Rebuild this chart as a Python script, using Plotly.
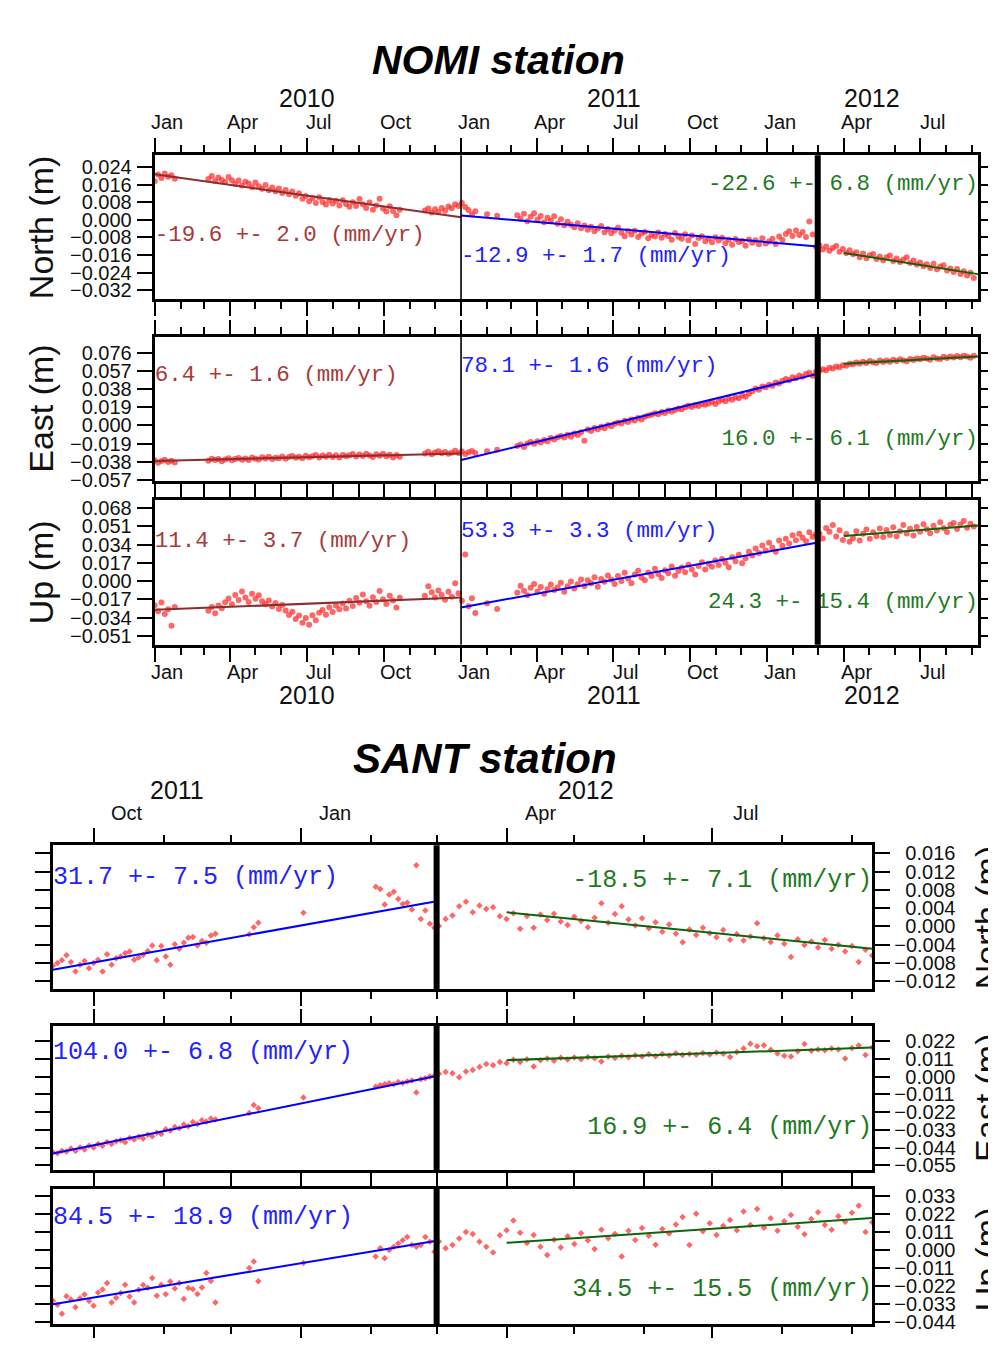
import datetime as dt
import plotly.graph_objects as go

# The page body keeps the browser's 8 px margin, so every window-pixel position is shifted by OFF.
OFF = 8
W, H = 996 - OFF, 1346 - 2 * OFF

# ============================ DATA ============================
# NOMI station: epochs are day offsets from NOMI_EPOCH, given as blocks (first day, step, count)
NOMI_EPOCH = dt.date(2010, 1, 1)
NOMI_BLOCKS = [(0, 4, 7), (64, 4, 58), (322, 4, 16), (396, 12, 2), (432, 4, 137)]

NOMI_NORTH_MM = [
    17.5, 20.5, 19.0, 21.0, 19.5, 20.2, 18.6,
    18.5, 19.8, 17.6, 19.2, 18.0, 17.1, 19.4, 17.9, 16.2, 17.8,
    15.6, 17.3, 16.5, 14.8, 16.9, 15.2, 14.1, 15.8, 13.4, 14.6,
    12.9, 14.2, 12.1, 13.5, 11.6, 12.8, 10.9, 12.0, 9.6, 10.8,
    8.4, 9.9, 7.6, 10.2, 8.1, 6.9, 9.0, 7.4, 8.6, 6.5,
    8.9, 7.2, 5.9, 8.0, 6.3, 9.4, 7.1, 5.4, 7.8, 4.6,
    6.5, 9.6, 5.1, 3.8, 6.2, 4.0, 2.1, 4.6,
    4.2, 5.1, 3.3, 4.8, 3.6, 5.4, 4.1, 6.0, 5.2, 7.1, 6.3, 7.6, 5.8, 4.5, 2.4, 3.9,
    2.5, 1.8,
    2.1, 0.5, 2.8, -0.6, 1.4, 3.0, 0.2, 1.7, -1.1, 0.9,
    -0.4, 1.6, -1.8, 0.3, -2.5, -0.9, -2.2, -3.4, -1.5, -3.8,
    -2.6, -4.5, -3.1, -5.2, -3.9, -2.8, -5.6, -4.2, -6.1, -4.8,
    -3.6, -5.9, -7.4, -5.1, -6.6, -4.9, -7.8, -6.2, -5.5, -8.3,
    -6.9, -7.6, -5.8, -8.1, -6.4, -7.3, -9.0, -6.0, -7.7, -8.6,
    -6.5, -9.3, -7.1, -11.0, -8.2, -7.4, -9.7, -8.5, -10.2, -7.9,
    -9.4, -8.1, -10.6, -9.0, -11.3, -8.7, -10.0, -9.6, -11.8, -8.9,
    -10.4, -9.2, -11.1, -8.4, -10.7, -9.8, -8.6, -10.9, -7.5, -9.1,
    -6.4, -5.2, -7.3, -4.8, -6.9, -5.5, -7.8, -0.8, -6.6, -12.2,
    -11.6, -13.4, -12.1, -14.0, -12.8, -11.9, -14.5, -13.2, -15.1, -13.8,
    -15.6, -14.7, -16.9, -15.3, -17.4, -16.1, -15.5, -17.8, -16.6, -18.3,
    -17.0, -16.2, -18.6, -17.5, -19.1, -18.0, -16.9, -19.6, -18.4, -20.2,
    -19.3, -21.0, -20.1, -21.8, -19.9, -22.4, -21.2, -20.6, -23.0, -22.1,
    -23.6, -22.3, -24.5, -23.3, -25.2, -24.0, -26.4,
]
NOMI_EAST_MM = [
    -36.5, -38.9, -37.2, -35.8, -38.1, -37.0, -38.6,
    -36.9, -34.8, -36.2, -35.1, -37.3, -35.6, -34.2, -36.4, -35.0, -33.9,
    -35.8, -34.5, -36.1, -33.6, -34.9, -35.7, -33.2, -34.6, -32.8, -35.1,
    -33.7, -34.3, -32.4, -34.8, -33.1, -31.9, -33.8, -32.6, -34.2, -31.7,
    -33.3, -32.1, -30.8, -33.5, -31.4, -32.7, -30.6, -32.9, -31.2, -33.6,
    -30.9, -32.3, -31.1, -29.8, -32.5, -30.4, -31.8, -29.6, -31.3, -33.0,
    -30.2, -31.6, -29.5, -32.2, -30.7, -33.4, -31.0, -32.6,
    -29.4, -27.6, -30.1, -28.2, -26.9, -29.0, -27.8, -29.7, -28.4, -26.5, -28.9, -27.3, -29.8, -28.1, -26.7, -28.8,
    -27.0, -25.5,
    -21.5, -19.8, -22.6, -18.9, -17.3, -19.1, -16.4, -17.8, -15.2, -16.6,
    -13.1, -14.6, -12.2, -10.9, -12.5, -9.6, -11.8, -8.4, -9.9, -7.1,
    -16.0, -4.2, -5.8, -2.6, -3.9, -1.3, -2.8, 0.4, -0.9, 1.8,
    3.1, 2.0, 4.9, 3.6, 6.2, 5.1, 7.9, 6.3, 9.2, 10.4,
    11.3, 12.9, 11.8, 14.2, 13.1, 15.6, 14.7, 16.3, 17.8, 16.9,
    19.1, 20.6, 19.4, 21.2, 20.3, 22.5, 21.8, 23.1, 24.9, 22.6,
    25.1, 26.8, 25.4, 28.2, 27.0, 29.4, 28.6, 31.3, 30.0, 33.1,
    35.9, 38.6, 37.4, 40.8, 39.9, 42.6, 41.5, 44.9, 43.8, 46.7,
    48.6, 47.3, 50.5, 49.4, 52.3, 51.1, 53.8, 55.2, 52.0, 56.4,
    57.2, 58.9, 57.8, 60.4, 59.6, 61.8, 61.0, 63.1, 62.4, 64.5,
    64.2, 65.9, 64.8, 66.6, 65.3, 67.4, 66.1, 65.5, 67.9, 66.4,
    68.1, 66.7, 68.9, 67.4, 69.2, 68.0, 67.1, 69.6, 68.5, 70.1,
    69.3, 71.0, 70.2, 68.8, 71.4, 70.0, 69.5, 71.9, 70.6, 72.2,
    71.1, 72.6, 71.5, 73.0, 72.1, 70.8, 72.9,
]
NOMI_UP_MM = [
    -22.5, -28.0, -19.8, -30.5, -26.2, -41.5, -24.0,
    -27.5, -24.1, -29.8, -22.6, -25.3, -19.7, -16.2, -21.4, -12.8, -17.5,
    -9.6, -15.1, -19.3, -11.7, -16.4, -13.2, -18.8, -21.5, -17.9, -23.6,
    -20.4, -25.8, -22.1, -27.3, -31.6, -28.4, -35.2, -32.0, -38.7, -34.3,
    -40.6, -31.8, -36.4, -29.5, -26.8, -31.2, -24.3, -28.6, -22.7, -26.1,
    -20.9, -25.4, -18.3, -23.0, -15.6, -20.2, -12.4, -18.7, -22.8, -14.9,
    -19.5, -9.2, -16.8, -21.3, -13.6, -18.1, -24.6, -15.4,
    -13.5, -4.8, -10.2, -15.1, -8.6, -12.9, -17.4, -9.8, -14.6, -2.0, -11.3, -18.2, 24.8, -23.4, -15.9, -29.6,
    -20.5, -26.0,
    -10.8, -4.2, -8.9, -13.1, -6.0, -2.7, -9.5, -5.3, -11.6, -7.4,
    -3.1, -8.2, -5.7, -1.4, -9.8, -4.6, -0.2, -6.9, -2.8, 1.5,
    -4.4, 0.8, -1.9, 3.6, -5.2, 2.1, -0.6, 5.4, 1.3, -2.7,
    4.9, 0.2, 7.8, 2.6, -1.8, 6.3, 9.7, 3.4, 0.9, 8.1,
    4.8, 11.6, 6.7, 2.9, 10.2, 7.5, 13.8, 5.1, 9.4, 12.7,
    8.3, 15.4, 11.0, 6.2, 14.1, 17.6, 10.8, 16.2, 13.5, 19.3,
    15.1, 20.8, 17.2, 12.9, 22.4, 18.6, 24.7, 16.8, 21.3, 27.5,
    23.9, 30.6, 26.2, 33.4, 28.7, 35.8, 31.2, 27.4, 37.9, 33.1,
    39.6, 35.2, 42.8, 38.1, 44.3, 40.5, 37.2, 45.6, 41.4, 43.7,
    44.2, 39.8, 49.6, 46.1, 52.3, 41.7, 47.5, 38.4, 43.9, 36.8,
    40.1, 46.5, 37.9, 44.3, 48.2, 39.6, 45.7, 42.0, 49.1, 41.3,
    47.8, 43.1, 50.2, 41.9, 46.6, 52.4, 44.5, 48.9, 42.7, 50.6,
    46.2, 53.1, 48.4, 44.8, 51.7, 47.3, 55.0, 49.5, 45.9, 52.6,
    54.3, 48.7, 52.9, 56.1, 49.8, 53.5, 51.0,
]
# linear fits: (first day, last day) and (start value, end value) in mm
NOMI_FIT_DAYS = [(0, 365), (365, 790), (821, 981)]
NOMI_FIT_NORTH = [(20.6, 1.2), (2.0, -12.1), (-15.0, -24.6)]
NOMI_FIT_EAST = [(-37.2, -29.3), (-36.2, 54.0), (64.6, 72.3)]
NOMI_FIT_UP = [(-26.7, -15.3), (-24.5, 36.1), (42.1, 52.0)]
NOMI_RATE_NORTH = ["-19.6 +- 2.0 (mm/yr)", "-12.9 +- 1.7 (mm/yr)", "-22.6 +- 6.8 (mm/yr)"]
NOMI_RATE_EAST = ["6.4 +- 1.6 (mm/yr)", "78.1 +- 1.6 (mm/yr)", "16.0 +- 6.1 (mm/yr)"]
NOMI_RATE_UP = ["11.4 +- 3.7 (mm/yr)", "53.3 +- 3.3 (mm/yr)", "24.3 +- 15.4 (mm/yr)"]
NOMI_N_TICKS = [-0.032, -0.024, -0.016, -0.008, 0.000, 0.008, 0.016, 0.024]
NOMI_E_TICKS = [-0.057, -0.038, -0.019, 0.000, 0.019, 0.038, 0.057, 0.076]
NOMI_U_TICKS = [-0.051, -0.034, -0.017, 0.000, 0.017, 0.034, 0.051, 0.068]

# SANT station: day offsets from SANT_EPOCH
SANT_EPOCH = dt.date(2012, 1, 1)
SANT_BLOCKS = [(-110, 2, 37), (-23, 2, 3), (1, 1, 1), (33, 2, 14), (61, 3, 65)]
SANT_NORTH_MM = [
    -8.6, -8.0, -7.4, -6.3, -7.8, -9.9, -8.4, -7.6, -9.2, -8.0,
    -7.3, -9.9, -6.1, -8.4, -7.0, -6.6, -5.9, -5.5, -7.3, -6.8,
    -6.2, -5.4, -4.2, -7.4, -4.3, -6.6, -8.4, -3.9, -4.9, -3.6,
    -2.5, -2.3, -4.2, -3.2, -3.6, -2.0, -1.6,
    -1.7, -0.2, 0.8,
    3.0,
    8.7, 8.2, 4.8, 7.0, 7.6, 6.0, 4.9, 5.2, 3.7, 13.4, 1.6, 3.5, 0.6, -0.3,
    0.1, 1.6, 2.4, 4.4, 5.4, 3.1, 4.6, 3.8, 4.2, 2.2,
    1.6, 2.9, -0.5, 2.3, -0.3, 2.6, 1.4, 2.8, 1.1, 0.3,
    2.1, 1.2, -0.2, 1.9, 5.1, 0.8, 2.7, 4.4, 1.5, 0.2,
    1.8, -0.4, 0.9, -1.2, 0.4, -1.6, -3.5, -0.7, -1.9, -0.3,
    -1.5, -2.4, -0.8, -2.9, -1.7, -3.1, -2.2, 0.7, -2.6, -3.4,
    -2.0, -3.8, -6.7, -2.8, -4.1, -3.3, -4.6, -3.0, -4.9, -4.0,
    -5.5, -4.3, -7.8, -5.1, -6.4,
]
SANT_EAST_MM = [
    -46.8, -47.5, -45.9, -46.4, -44.6, -46.1, -44.0, -45.2, -42.8, -43.9,
    -41.7, -42.9, -40.5, -41.8, -40.0, -39.4, -40.6, -38.1, -39.0, -37.2,
    -38.3, -36.0, -36.9, -34.8, -35.5, -32.6, -33.4, -31.2, -31.9, -29.7,
    -30.8, -28.1, -29.3, -27.0, -27.8, -25.9, -26.6,
    -22.5, -17.6, -19.6,
    -12.9,
    -6.2, -5.3, -4.7, -4.1, -4.6, -3.2, -3.8, -2.9, -2.4, -9.8, -1.5, -1.0, 0.2, 0.6,
    1.8, 3.0, 2.2, -0.3, 3.3, 4.2, 6.1, 8.0, 7.1, 9.2,
    8.4, 10.6, 9.1, 10.9, 6.4, 10.2, 11.4, 10.0, 11.8, 10.7,
    11.9, 10.8, 12.3, 11.5, 9.4, 12.6, 11.7, 13.0, 12.1, 13.4,
    12.6, 13.9, 12.8, 14.1, 13.2, 14.6, 13.5, 14.2, 13.6, 14.8,
    13.8, 15.0, 14.3, 12.3, 15.4, 17.6, 20.5, 18.9, 19.6, 16.8,
    14.4, 13.1, 12.6, 15.9, 20.4, 16.2, 17.0, 16.5, 17.6, 16.9,
    11.4, 17.8, 19.4, 13.5, 18.2,
]
SANT_UP_MM = [
    -31.0, -33.5, -39.0, -28.2, -30.3, -35.0, -29.4, -27.2, -31.2, -34.0,
    -26.0, -24.2, -20.2, -32.0, -29.1, -26.3, -21.2, -28.4, -32.0, -24.3,
    -21.3, -23.0, -17.1, -28.0, -21.2, -27.0, -19.2, -23.5, -20.1, -30.0,
    -23.2, -24.0, -26.8, -22.9, -14.1, -19.0, -32.0,
    -11.0, -7.0, -19.1,
    -8.0,
    -4.0, 1.0, -5.0, 0.0, 2.0, 4.0, 6.0, 8.0, 3.0, 2.0, 3.0, 8.0, 5.0, -1.0,
    5.2, 1.0, 3.1, 7.0, 11.0, 9.8, 5.1, 2.0, -1.5, 9.0,
    12.0, 18.0, 10.5, 4.2, 9.1, 2.0, -3.0, 6.3, 1.5, 8.4,
    3.6, 10.2, 5.8, 0.6, 12.4, 7.2, 9.8, -4.0, 11.7, 6.1,
    13.5, 8.7, 3.2, 12.9, 10.1, 15.6, 20.1, 3.0, 22.1, 11.5,
    16.4, 9.2, 14.8, 18.3, 12.0, 23.5, 15.2, 25.1, 13.6, 19.4,
    11.8, 17.5, 21.3, 14.2, 9.6, 18.9, 23.0, 15.3, 12.4, 20.6,
    17.2, 22.8, 27.1, 11.0, 16.9,
]
SANT_FIT_DAYS = [(-110, 60), (91, 253)]
SANT_FIT_NORTH = [(-9.5, 5.5), (3.1, -4.9)]
SANT_FIT_EAST = [(-47.7, 0.5), (10.3, 18.1)]
SANT_FIT_UP = [(-33.1, 5.6), (4.4, 19.6)]
SANT_RATE_NORTH = ["31.7 +- 7.5 (mm/yr)", "-18.5 +- 7.1 (mm/yr)"]
SANT_RATE_EAST = ["104.0 +- 6.8 (mm/yr)", "16.9 +- 6.4 (mm/yr)"]
SANT_RATE_UP = ["84.5 +- 18.9 (mm/yr)", "34.5 +- 15.5 (mm/yr)"]
SANT_N_TICKS = [-0.012, -0.008, -0.004, 0.000, 0.004, 0.008, 0.012, 0.016]
SANT_E_TICKS = [-0.055, -0.044, -0.033, -0.022, -0.011, 0.000, 0.011, 0.022]
SANT_U_TICKS = [-0.044, -0.033, -0.022, -0.011, 0.000, 0.011, 0.022, 0.033]

MONTH_NAMES = {1: "Jan", 4: "Apr", 7: "Jul", 10: "Oct"}

# ============================ STYLE / LAYOUT ============================
SANS = "Liberation Sans, Arial, Helvetica, sans-serif"
MONO = "Liberation Mono, Courier New, Courier, monospace"
INK = "#111111"
POINT = "rgba(255,45,45,0.72)"
BROWN_T, BROWN_L = "#a83a3a", "#8b2e2e"
BLUE_T, BLUE_L = "#2222ff", "#0000ff"
GREEN_T, GREEN_L = "#1e7a1e", "#0b650b"
BREAK_THIN = "2011-01-01"
BREAK_THICK = "2012-03-01"
ANN_DY = 3.5  # annotation boxes sit slightly low; lift them by this many px


def px_x(px):
    """window pixel (x) -> paper fraction"""
    return (px - OFF) / W


def px_y(py):
    """window pixel (y, from top) -> paper fraction"""
    return 1 - (py - OFF) / H


def dstr(epoch, d):
    return (epoch + dt.timedelta(days=d)).isoformat()


def epochs(epoch, blocks):
    out = []
    for start, step, n in blocks:
        out += [dstr(epoch, start + i * step) for i in range(n)]
    return out


NOMI_T = epochs(NOMI_EPOCH, NOMI_BLOCKS)
SANT_T = epochs(SANT_EPOCH, SANT_BLOCKS)
for arr in (NOMI_NORTH_MM, NOMI_EAST_MM, NOMI_UP_MM):
    assert len(arr) == len(NOMI_T), (len(arr), len(NOMI_T))
for arr in (SANT_NORTH_MM, SANT_EAST_MM, SANT_UP_MM):
    assert len(arr) == len(SANT_T), (len(arr), len(SANT_T))

STATIONS = {
    "NOMI": dict(epoch=NOMI_EPOCH, t=NOMI_T, xpx=(155, 980), xrange=[0, 981],
                 fit_days=NOMI_FIT_DAYS, fit_colors=[BROWN_L, BLUE_L, GREEN_L],
                 txt_colors=[BROWN_T, BLUE_T, GREEN_T],
                 txt_anchor=[(0, "middle right"), (365, "middle right"), (981, "middle left")],
                 txt_size=22.5, side="left", years=[2010, 2011, 2012],
                 marker=dict(symbol="circle", size=6), standoff=1),
    "SANT": dict(epoch=SANT_EPOCH, t=SANT_T, xpx=(53, 874), xrange=[-110, 253],
                 fit_days=SANT_FIT_DAYS, fit_colors=[BLUE_L, GREEN_L],
                 txt_colors=[BLUE_T, GREEN_T],
                 txt_anchor=[(-110, "middle right"), (253, "middle left")],
                 txt_size=25, side="right", years=[2011, 2012],
                 marker=dict(symbol="diamond", size=5), standoff=0),
}

PANELS = [
    dict(st="NOMI", name="North (m)", vals=NOMI_NORTH_MM, fits=NOMI_FIT_NORTH, rates=NOMI_RATE_NORTH,
         ticks=NOMI_N_TICKS, yr=[-0.0360, 0.0293], px=(153, 299), txt_y=[-6.9, -16.7, 16.0]),
    dict(st="NOMI", name="East (m)", vals=NOMI_EAST_MM, fits=NOMI_FIT_EAST, rates=NOMI_RATE_EAST,
         ticks=NOMI_E_TICKS, yr=[-0.0580, 0.0928], px=(337, 483), txt_y=[52.0, 62.3, -14.2]),
    dict(st="NOMI", name="Up (m)", vals=NOMI_UP_MM, fits=NOMI_FIT_UP, rates=NOMI_RATE_UP,
         ticks=NOMI_U_TICKS, yr=[-0.0593, 0.0760], px=(502, 649), txt_y=[36.8, 46.9, -20.2]),
    dict(st="SANT", name="North (m)", vals=SANT_NORTH_MM, fits=SANT_FIT_NORTH, rates=SANT_RATE_NORTH,
         ticks=SANT_N_TICKS, yr=[-0.0138, 0.0178], px=(852, 998), txt_y=[10.7, 10.1]),
    dict(st="SANT", name="East (m)", vals=SANT_EAST_MM, fits=SANT_FIT_EAST, rates=SANT_RATE_EAST,
         ticks=SANT_E_TICKS, yr=[-0.0579, 0.0316], px=(1035, 1181), txt_y=[14.6, -31.5]),
    dict(st="SANT", name="Up (m)", vals=SANT_UP_MM, fits=SANT_FIT_UP, rates=SANT_RATE_UP,
         ticks=SANT_U_TICKS, yr=[-0.0452, 0.0374], px=(1200, 1337), txt_y=[19.7, -24.2]),
]


def sfx(i):
    return "" if i == 1 else str(i)


def fmt_tick(v, pad):
    s = f"{abs(v):.3f}"
    if v < 0:
        return "\u2212" + s
    return ("\u2007" + s) if pad else s


fig = go.Figure()
layout = dict(width=W, height=H, margin=dict(l=0, r=0, t=0, b=0), autosize=False,
              paper_bgcolor="white", plot_bgcolor="white", showlegend=False,
              font=dict(family=SANS, color=INK))
shapes, annotations = [], []
next_ax = 7


def quarter_dates(st):
    s = STATIONS[st]
    lo = s["epoch"] + dt.timedelta(days=s["xrange"][0])
    hi = s["epoch"] + dt.timedelta(days=s["xrange"][1])
    out = []
    for y in range(lo.year, hi.year + 1):
        for m in (1, 4, 7, 10):
            d = dt.date(y, m, 1)
            if lo <= d <= hi:
                out.append(d)
    return out


for i, p in enumerate(PANELS, start=1):
    s = STATIONS[p["st"]]
    xa, ya = "x" + sfx(i), "y" + sfx(i)
    xr = [dstr(s["epoch"], s["xrange"][0]), dstr(s["epoch"], s["xrange"][1])]
    xdom = [px_x(s["xpx"][0]), px_x(s["xpx"][1])]
    ydom = [px_y(p["px"][1]), px_y(p["px"][0])]

    fig.add_trace(go.Scatter(x=s["t"], y=[v / 1000 for v in p["vals"]], mode="markers",
                             marker=dict(color=POINT, line=dict(width=0), **s["marker"]),
                             xaxis=xa, yaxis=ya, hoverinfo="skip"))
    for (d0, d1), (v0, v1), c in zip(s["fit_days"], p["fits"], s["fit_colors"]):
        fig.add_trace(go.Scatter(x=[dstr(s["epoch"], d0), dstr(s["epoch"], d1)], y=[v0 / 1000, v1 / 1000],
                                 mode="lines", line=dict(color=c, width=2), xaxis=xa, yaxis=ya, hoverinfo="skip"))
    for txt, ty, (ad, pos), c in zip(p["rates"], p["txt_y"], s["txt_anchor"], s["txt_colors"]):
        fig.add_trace(go.Scatter(x=[dstr(s["epoch"], ad)], y=[ty / 1000], mode="text", text=[txt],
                                 textposition=pos, cliponaxis=False,
                                 textfont=dict(family=MONO, size=s["txt_size"], color=c),
                                 xaxis=xa, yaxis=ya, hoverinfo="skip"))

    qd = quarter_dates(p["st"])
    jan = [d.isoformat() for d in qd if d.month == 1]
    tick0 = qd[0].isoformat()
    layout["xaxis" + sfx(i)] = dict(
        type="date", range=xr, domain=xdom, anchor=ya, showline=True, linecolor="black", linewidth=3,
        mirror="ticks", ticks="outside", tickmode="array", tickvals=[d.isoformat() for d in qd],
        ticklen=14, tickwidth=1.6, tickcolor="black", showticklabels=False, showgrid=False, zeroline=False,
        minor=dict(ticks="outside", ticklen=7, tickwidth=1.6, tickcolor="black", dtick="M1", tick0=tick0,
                   showgrid=False))
    ylabels = [fmt_tick(v, s["side"] == "right") for v in p["ticks"]]
    layout["yaxis" + sfx(i)] = dict(
        domain=ydom, anchor=xa, range=p["yr"], tickmode="array", tickvals=p["ticks"], ticktext=ylabels,
        ticks="outside", ticklen=15, tickwidth=1.6, tickcolor="black", showline=True, linecolor="black",
        linewidth=3, mirror="ticks", side=s["side"], ticklabelstandoff=s["standoff"],
        tickfont=dict(size=20, family=SANS, color=INK), showgrid=False, zeroline=False)

    # year boundary ticks crossing the gaps between panels
    jv = jan if p["st"] == "SANT" else ["2010-01-01"] + jan
    layout["xaxis" + str(next_ax)] = dict(
        type="date", range=xr, overlaying=xa, anchor=ya, side="bottom", tickmode="array", tickvals=jv,
        ticks="outside", ticklen=19, tickwidth=1.6, tickcolor="black", mirror="ticks",
        showticklabels=False, showline=False, showgrid=False, zeroline=False)
    next_ax += 1
    # long outer year ticks
    outer = {1: "top", 4: "top", 3: "bottom"}.get(i)
    if outer:
        layout["xaxis" + str(next_ax)] = dict(
            type="date", range=xr, overlaying=xa, anchor=ya, side=outer, tickmode="array", tickvals=jan,
            ticks="outside", ticklen=42, tickwidth=1.6, tickcolor="black",
            showticklabels=False, showline=False, showgrid=False, zeroline=False)
        next_ax += 1
    # inner year ticks (bottom of East, top of Up)
    if p["name"] in ("East (m)", "Up (m)"):
        jin = [d for d in jan if d.startswith("2012")]
        layout["xaxis" + str(next_ax)] = dict(
            type="date", range=xr, overlaying=xa, anchor=ya,
            side="bottom" if p["name"] == "East (m)" else "top", tickmode="array", tickvals=jin,
            ticks="inside", ticklen=24, tickwidth=1.6, tickcolor="black",
            showticklabels=False, showline=False, showgrid=False, zeroline=False)
        next_ax += 1

    # segment boundaries
    if p["st"] == "NOMI":
        shapes.append(dict(type="line", xref=xa, yref=ya + " domain", x0=BREAK_THIN, x1=BREAK_THIN,
                           y0=0, y1=1, line=dict(color="black", width=1.6), layer="above"))
    shapes.append(dict(type="line", xref=xa, yref=ya + " domain", x0=BREAK_THICK, x1=BREAK_THICK,
                       y0=0, y1=1, line=dict(color="black", width=6), layer="above"))

    # axis title
    cen = (p["px"][0] + p["px"][1]) / 2 if i != 6 else 1271.5
    ycen = px_y(cen)
    tx = px_x(41) if s["side"] == "left" else px_x(989)
    annotations.append(dict(text=p["name"], xref="paper", yref="paper", x=tx, y=ycen, showarrow=False,
                            textangle=-90, xanchor="center", yanchor="middle",
                            font=dict(size=34, family=SANS, color=INK)))


def month_year_labels(st, xa, ym, yy):
    s = STATIONS[st]
    lo = s["epoch"] + dt.timedelta(days=s["xrange"][0])
    hi = s["epoch"] + dt.timedelta(days=s["xrange"][1])
    for d in quarter_dates(st):
        annotations.append(dict(text=MONTH_NAMES[d.month], xref=xa, yref="paper",
                                x=dt.date(d.year, d.month, 16).isoformat(), y=px_y(ym - ANN_DY),
                                showarrow=False, xanchor="center", yanchor="middle",
                                font=dict(size=20, family=SANS, color=INK)))
    for y in s["years"]:
        a = max(lo, dt.date(y, 1, 1))
        b = min(hi, dt.date(y + 1, 1, 1))
        mid = a + (b - a) / 2
        annotations.append(dict(text=str(y), xref=xa, yref="paper", x=mid.isoformat(), y=px_y(yy - ANN_DY),
                                showarrow=False, xanchor="center", yanchor="middle",
                                font=dict(size=25, family=SANS, color=INK)))


month_year_labels("NOMI", "x", 123, 99)
month_year_labels("NOMI", "x3", 680, 703)
month_year_labels("SANT", "x4", 823, 800)

annotations.append(dict(text="<b><i>NOMI station</i></b>", xref="paper", yref="paper", x=px_x(499),
                        y=px_y(60 - ANN_DY), showarrow=False, xanchor="center", yanchor="middle",
                        font=dict(size=41, family=SANS, color="black")))
annotations.append(dict(text="<b><i>SANT station</i></b>", xref="paper", yref="paper", x=px_x(486),
                        y=px_y(768 - ANN_DY), showarrow=False, xanchor="center", yanchor="middle",
                        font=dict(size=42, family=SANS, color="black")))

layout["shapes"] = shapes
layout["annotations"] = annotations
fig.update_layout(**layout)
fig.write_html("out.html", config={"displayModeBar": False})
